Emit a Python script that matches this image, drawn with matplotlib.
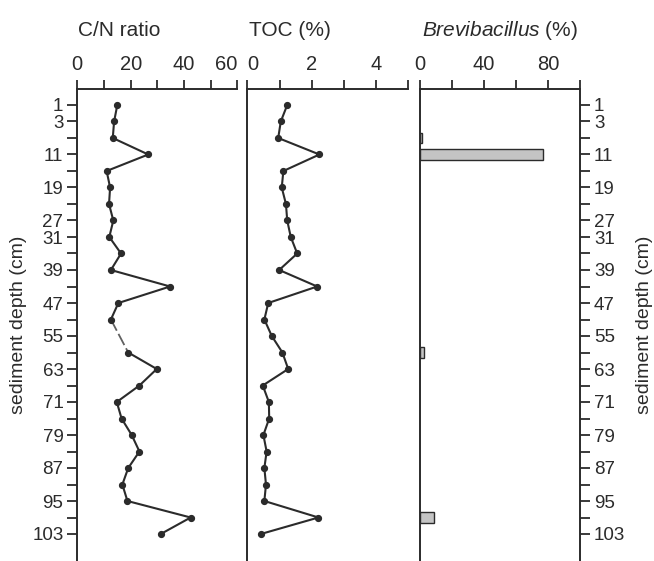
import numpy as np
import matplotlib.pyplot as plt
from matplotlib.ticker import FixedLocator, NullLocator

plt.rcParams['font.family'] = ['Liberation Sans', 'DejaVu Sans']
plt.rcParams['mathtext.fontset'] = 'custom'
plt.rcParams['mathtext.rm'] = 'Liberation Sans'
plt.rcParams['mathtext.it'] = 'Liberation Sans:italic'

# Sample depths (cm), top to bottom, and the depths that get a label
depth_cm = [1, 3, 7, 11, 15, 19, 23, 27, 31, 35, 39, 43, 47, 51, 55,
            59, 63, 67, 71, 75, 79, 83, 87, 91, 95, 99, 103]
labeled_depths = [1, 3, 11, 19, 27, 31, 39, 47, 55, 63, 71, 79, 87, 95, 103]

# C/N ratio per sample (no measurement at 55 cm)
cn_ratio = [15.0, 13.8, 13.3, 26.6, 11.0, 12.3, 11.9, 13.5, 12.0, 16.4,
            12.6, 34.8, 15.4, 12.6, np.nan, 19.1, 29.8, 23.3, 14.8, 16.6,
            20.4, 23.3, 19.1, 16.9, 18.8, 42.5, 31.3]

# Total organic carbon (%)
toc_pct = [1.24, 1.04, 0.96, 2.24, 1.12, 1.07, 1.20, 1.24, 1.35, 1.55,
           0.99, 2.17, 0.65, 0.53, 0.76, 1.09, 1.27, 0.48, 0.67, 0.68,
           0.50, 0.60, 0.53, 0.58, 0.53, 2.21, 0.42]

# Relative abundance of Brevibacillus (%), only where detected
brevi_depths = [7, 11, 59, 99]
brevi_pct = [1.2, 77.0, 2.5, 9.0]

INK = '#2b2b2b'
pos = np.arange(len(depth_cm))
depth_index = {d: i for i, d in enumerate(depth_cm)}

W, H = 654, 561
fig = plt.figure(figsize=(W / 100, H / 100), dpi=100)

top_px = 89
ax_h = (H - top_px) / H
panels_px = [(77.3, 237.3), (247.3, 408.3), (420.0, 580.0)]
axes = [fig.add_axes([l / W, 0, (r - l) / W, ax_h]) for l, r in panels_px]

ylim = (len(depth_cm) - 1 + 27 / 16.5, -16 / 16.5)

for ax in axes:
    ax.set_ylim(*ylim)
    for side in ('bottom', 'right'):
        ax.spines[side].set_visible(False)
    for side in ('left', 'top'):
        ax.spines[side].set_linewidth(1.4)
        ax.spines[side].set_color(INK)
    ax.xaxis.set_ticks_position('top')
    ax.tick_params(axis='x', which='both', direction='out', length=6.5,
                   width=1.3, color=INK, labelcolor=INK, labelsize=14.5, pad=4)
    ax.tick_params(axis='x', which='minor', labeltop=False)
    ax.yaxis.set_major_locator(NullLocator())
    ax.yaxis.set_minor_locator(NullLocator())


def nudge_edge_labels(ax, first_left=True, last_right=False):
    ticks = ax.xaxis.get_major_ticks()
    if first_left:
        ticks[0].label2.set_horizontalalignment('left')
        ticks[0].label2.set_x(ticks[0].get_loc())
    if last_right:
        ticks[-1].label2.set_horizontalalignment('right')


# Panel 1: C/N ratio
ax1 = axes[0]
cn = np.array(cn_ratio)
ax1.plot(cn, pos, color=INK, lw=1.5, marker='o', ms=4.2, mfc=INK, mec=INK)
for g in np.where(np.isnan(cn))[0]:
    ax1.plot([cn[g - 1], cn[g + 1]], [pos[g - 1], pos[g + 1]],
             color=INK, lw=1.3, ls=(0, (7, 2)), alpha=0.75)
ax1.set_xlim(0, 60)
ax1.xaxis.set_major_locator(FixedLocator([0, 20, 40, 60]))
ax1.xaxis.set_minor_locator(FixedLocator([10, 30, 50]))
ax1.set_yticks(pos)
ax1.set_yticklabels([str(d) if d in labeled_depths else '' for d in depth_cm])
ax1.tick_params(axis='y', which='major', direction='out', length=7, width=1.3,
                color=INK, labelcolor=INK, labelsize=13.5, pad=3)
ax1.set_ylabel('sediment depth (cm)', fontsize=14, color=INK, labelpad=4)

# Panel 2: TOC
ax2 = axes[1]
ax2.plot(toc_pct, pos, color=INK, lw=1.5, marker='o', ms=4.2, mfc=INK, mec=INK)
ax2.set_xlim(0, 5)
ax2.xaxis.set_major_locator(FixedLocator([0, 2, 4]))
ax2.xaxis.set_minor_locator(FixedLocator([1, 3, 5]))

# Panel 3: Brevibacillus
ax3 = axes[2]
ax3.spines['right'].set_visible(True)
ax3.spines['right'].set_linewidth(1.4)
ax3.spines['right'].set_color(INK)
ax3.barh([depth_index[d] for d in brevi_depths], brevi_pct, height=0.62,
         color='#c4c4c4', edgecolor=INK, linewidth=1.0)
ax3.set_xlim(0, 100)
ax3.xaxis.set_major_locator(FixedLocator([0, 40, 80]))
ax3.xaxis.set_minor_locator(FixedLocator([20, 60, 100]))
ax3.yaxis.set_ticks_position('right')
ax3.yaxis.set_label_position('right')
ax3.set_yticks(pos)
ax3.set_yticklabels([str(d) if d in labeled_depths else '' for d in depth_cm])
ax3.tick_params(axis='y', which='major', direction='out', length=7, width=1.3,
                color=INK, labelcolor=INK, labelsize=13.5, pad=3,
                left=False, right=True, labelleft=False, labelright=True)
ax3.set_ylabel('sediment depth (cm)', fontsize=14, color=INK, labelpad=8,
               rotation=90)

# Keep neighbouring "60" and "0" apart
nudge_edge_labels(ax1, first_left=False, last_right=True)
nudge_edge_labels(ax2, first_left=True)

# Panel titles, left-aligned with each panel
title_y = 1 - 36 / H
fig.text(78 / W, title_y, 'C/N ratio', fontsize=15, color=INK,
         ha='left', va='baseline')
fig.text(249 / W, title_y, 'TOC (%)', fontsize=15, color=INK,
         ha='left', va='baseline')
fig.text(422 / W, title_y, r'$\it{Brevibacillus}$ (%)', fontsize=15,
         color=INK, ha='left', va='baseline')

fig.savefig('out.png', dpi=100)
